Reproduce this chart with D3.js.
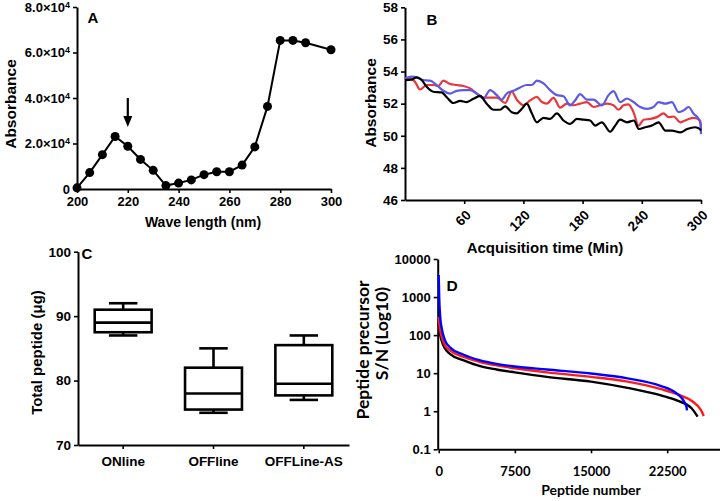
<!DOCTYPE html>
<html><head><meta charset="utf-8">
<script src="https://cdn.jsdelivr.net/npm/d3@7"></script>
<style>
body{margin:0;background:#fff;}
svg{display:block;}
text{font-family:"Liberation Sans",Arial,sans-serif;font-weight:bold;fill:#000;}
</style></head>
<body>
<svg id="chart" width="720" height="501"></svg>
<script>
// ---------- Panel A data ----------
const waveLength = [200,205,210,215,220,225,230,235,240,245,250,255,260,265,270,275,280,285,290,300];
const absorbanceA = [500,7200,15100,23100,18800,13000,8200,1500,2600,4000,6300,7600,7600,10500,18500,36300,65300,65300,64300,61200];
const yTicksA = [0,20000,40000,60000,80000];
const xTicksA = [200,220,240,260,280,300];

// ---------- Panel B data ----------
const timeBlack = [0,6.8,11.8,16.9,22,28.7,37.2,42.3,49,55.8,62.6,69.3,76.1,82.8,89.6,96.4,101.5,108.2,113.3,118.4,123.4,128.5,133.6,140.4,147.1,153.9,160.6,167.4,174.2,180.9,187.7,192.8,199.5,208,213,218,225,232,237,243.5,250,257,264,270.5,279,286,294,299,300];
const absBlack = [53.47,53.5,53.64,53.47,53.05,52.74,52.7,52.4,52.04,52.17,52.1,52.3,52.48,52.0,51.62,51.62,51.83,51.47,51.4,51.68,52.0,51.4,50.84,51.12,51.05,51.4,50.95,50.74,51.05,51.0,50.95,50.63,50.84,50.25,50.63,51.0,50.84,50.95,50.42,50.53,50.63,50.84,50.32,50.32,50.21,50.42,50.53,50.42,50.32];
const timeRed = [0,5.1,10.1,15.2,22.0,28.7,33.8,38.9,45.7,52.4,59.2,66.0,72.7,79.5,86.2,93.0,101.5,108.2,113.3,120.1,126.8,133.6,138.7,143.7,150.5,157.3,164.0,170.8,177.5,184.3,191.1,197.8,204.6,211.3,216.4,221.5,226.5,231.6,236.7,241.8,248.5,255.3,262.1,267.1,272.2,279.0,285.7,292.5,299.3,300];
const absRed = [53.47,53.58,53.37,52.88,53.16,53.16,53.1,53.43,53.22,53.16,53.1,52.95,52.63,52.38,52.38,52.38,52.04,52.74,52.25,51.9,52.2,52.42,52.1,52.0,52.36,51.75,52.0,51.9,52.0,52.1,51.79,51.9,52.0,51.9,51.62,51.9,51.96,51.47,50.63,51.0,51.05,51.16,51.4,51.16,51.2,50.84,51.0,51.12,50.95,50.42];
const timeBlue = [0,6.8,11.8,18.6,25.4,32.1,38.9,45.7,52.4,59.2,66.0,72.7,79.5,86.2,93.0,98.0,103.1,109.9,116.7,123.4,128.5,133.6,140.4,147.1,153.9,160.6,167.4,172.5,177.5,184.3,191.1,199.5,206.3,211.3,218.1,224.9,231.6,238.4,245.2,251.9,257.0,263.8,270.5,277.3,282.4,287.4,292.5,297.6,299.5,300];
const absBlue = [53.58,53.68,53.64,53.47,53.43,53.16,52.8,52.63,52.8,52.84,52.84,52.63,52.32,52.84,52.53,52.25,52.63,52.8,53.01,53.16,53.16,53.43,53.26,52.84,52.53,52.46,51.89,52.21,52.59,52.25,52.25,51.89,52.53,52.78,52.1,52.32,52.1,51.79,51.68,51.79,52.1,52.0,52.1,51.47,51.58,51.79,51.37,51.05,50.74,50.1];
const yTicksB = [46,48,50,52,54,56,58];
const xTicksB = [60,120,180,240,300];

// ---------- Panel C data ----------
const groupsC = ["ONline","OFFline","OFFLine-AS"];
const whiskerLow = [87,75,77];
const boxQ1 = [87.5,75.5,77.7];
const boxMedian = [89,78,79.5];
const boxQ3 = [91,82,85.5];
const whiskerHigh = [92,85,87];
const yTicksC = [70,80,90,100];

// ---------- Panel D data ----------
const rankBlack = [0,100,300,600,1100,2400,4000,5700,7500,10650,15000,18600,21900,23500,24900,25500];
const snBlack = [200,120,70,45,32,22,15.5,12.5,10.5,8,6,4.1,2.6,1.9,1.2,0.72];
const rankRed = [0,100,300,600,1100,2400,4000,5700,7500,10650,15000,18600,21900,23500,25000,25800,26100];
const snRed = [300,160,90,55,40,27,20,16,13.5,10.5,8,6,3.8,2.8,1.8,1.1,0.75];
const rankBlue = [0,50,150,300,600,1100,2400,4000,5700,7500,10650,15000,18600,21900,23300,24000,24400,24450];
const snBlue = [3800,1000,300,150,75,48,31,22,17.5,15,12.5,9.8,7.3,4.6,3.1,2.1,1.3,1.05];
const yTicksD = [0.1,1,10,100,1000,10000];
const xTicksD = [0,7500,15000,22500];

const svg = d3.select("#chart");
svg.append("rect").attr("width",720).attr("height",501).attr("fill","#fff");
const LATO = 'Lato,"Open Sans",sans-serif';

function styleAxis(g, fs, family){
  g.select(".domain").attr("stroke","#000").attr("stroke-width",2);
  g.selectAll(".tick line").attr("stroke","#000").attr("stroke-width",1.6);
  g.selectAll(".tick text").attr("font-size",fs).attr("fill","#000")
   .style("font-family", family || '"Liberation Sans",Arial,sans-serif').style("font-weight","bold");
}

// =============== Panel A ===============
const xA = d3.scaleLinear().domain([200,300]).range([77,331]);
const yA = d3.scaleLinear().domain([0,80000]).range([189,7]);
const gAy = svg.append("g").attr("transform","translate(77,0)")
  .call(d3.axisLeft(yA).tickValues(yTicksA).tickSize(4).tickSizeOuter(0).tickPadding(3).tickFormat(()=>""));
styleAxis(gAy,13);
gAy.selectAll(".tick text").each(function(d){
  const t = d3.select(this);
  if(d===0){ t.text("0"); return; }
  t.append("tspan").text((d/10000).toFixed(1)+"×10");
  t.append("tspan").attr("dy","-0.45em").attr("font-size","9px").text("4");
});
const gAx = svg.append("g").attr("transform","translate(0,189)")
  .call(d3.axisBottom(xA).tickValues(xTicksA).tickSize(4).tickSizeOuter(0).tickPadding(4));
styleAxis(gAx,13);
svg.append("path").datum(waveLength.map((w,i)=>[w,absorbanceA[i]]))
  .attr("fill","none").attr("stroke","#000").attr("stroke-width",2)
  .attr("d", d3.line().x(d=>xA(d[0])).y(d=>yA(d[1])));
svg.append("g").selectAll("circle").data(waveLength.map((w,i)=>[w,absorbanceA[i]])).join("circle")
  .attr("cx",d=>xA(d[0])).attr("cy",d=>yA(d[1])).attr("r",4.5).attr("fill","#000");
// arrow at 220 nm
svg.append("line").attr("x1",xA(220)).attr("x2",xA(220)).attr("y1",98).attr("y2",119)
  .attr("stroke","#000").attr("stroke-width",2.2);
svg.append("path").attr("d",`M${xA(220)-4.5},116 L${xA(220)+4.5},116 L${xA(220)},127 Z`).attr("fill","#000");
svg.append("text").attr("x",87.5).attr("y",23).attr("font-size",15).text("A");
svg.append("text").attr("transform","translate(15.5,104) rotate(-90)").attr("text-anchor","middle")
  .attr("font-size",15.5).text("Absorbance");
svg.append("text").attr("x",203).attr("y",227).attr("text-anchor","middle").attr("font-size",14).text("Wave length (nm)");

// =============== Panel B ===============
const xB = d3.scaleLinear().domain([0,300]).range([405,701]);
const yB = d3.scaleLinear().domain([46,58]).range([200,7.3]);
const gBy = svg.append("g").attr("transform","translate(405,0)")
  .call(d3.axisLeft(yB).tickValues(yTicksB).tickSize(4).tickSizeOuter(0).tickPadding(3));
styleAxis(gBy,13.5);
const gBx = svg.append("g").attr("transform","translate(0,200)")
  .call(d3.axisBottom(xB).tickValues(xTicksB).tickSize(4).tickSizeOuter(0).tickPadding(4));
styleAxis(gBx,13.5);
gBx.selectAll(".tick text").attr("text-anchor","end").attr("dy",null).attr("y",null)
  .attr("transform","translate(7,16) rotate(-45)");
const lineB = d3.line().x(d=>xB(d[0])).y(d=>yB(d[1])).curve(d3.curveMonotoneX);
[[timeRed,absRed,"#e8383c"],[timeBlue,absBlue,"#5a5ae6"],[timeBlack,absBlack,"#000"]].forEach(([t,v,c])=>{
  svg.append("path").datum(t.map((x,i)=>[x,v[i]])).attr("fill","none").attr("stroke",c)
    .attr("stroke-width",2.2).attr("d",lineB);
});
svg.append("text").attr("x",426.5).attr("y",25).attr("font-size",15).text("B");
svg.append("text").attr("transform","translate(375.5,103) rotate(-90)").attr("text-anchor","middle")
  .attr("font-size",15.5).text("Absorbance");
svg.append("text").attr("x",545).attr("y",253).attr("text-anchor","middle").attr("font-size",15).text("Acquisition time (Min)");

// =============== Panel C ===============
const xC = d3.scaleBand().domain(groupsC).range([78,349]).padding(0);
const yC = d3.scaleLinear().domain([70,100]).range([445,251.7]);
const gCy = svg.append("g").attr("transform","translate(78,0)")
  .call(d3.axisLeft(yC).tickValues(yTicksC).tickSize(4).tickSizeOuter(0).tickPadding(3));
styleAxis(gCy,13.5);
const gCx = svg.append("g").attr("transform","translate(0,445)")
  .call(d3.axisBottom(xC).tickSize(4).tickSizeOuter(0).tickPadding(7));
styleAxis(gCx,13.5);
const boxW = xC.bandwidth()*0.63;
groupsC.forEach((gname,i)=>{
  const cx = xC(gname)+xC.bandwidth()/2;
  const g = svg.append("g").attr("stroke","#000").attr("stroke-width",2.6).attr("fill","none");
  g.append("rect").attr("x",cx-boxW/2).attr("width",boxW)
    .attr("y",yC(boxQ3[i])).attr("height",yC(boxQ1[i])-yC(boxQ3[i]));
  g.append("line").attr("x1",cx-boxW/2).attr("x2",cx+boxW/2).attr("y1",yC(boxMedian[i])).attr("y2",yC(boxMedian[i]));
  g.append("line").attr("x1",cx).attr("x2",cx).attr("y1",yC(boxQ3[i])).attr("y2",yC(whiskerHigh[i]));
  g.append("line").attr("x1",cx).attr("x2",cx).attr("y1",yC(boxQ1[i])).attr("y2",yC(whiskerLow[i]));
  g.append("line").attr("x1",cx-boxW/4).attr("x2",cx+boxW/4).attr("y1",yC(whiskerHigh[i])).attr("y2",yC(whiskerHigh[i]));
  g.append("line").attr("x1",cx-boxW/4).attr("x2",cx+boxW/4).attr("y1",yC(whiskerLow[i])).attr("y2",yC(whiskerLow[i]));
});
svg.append("text").attr("x",81.5).attr("y",258.5).attr("font-size",15).text("C");
svg.append("text").attr("transform","translate(42,352.5) rotate(-90)").attr("text-anchor","middle")
  .attr("font-size",15).text("Total peptide (μg)");

// =============== Panel D ===============
const xD = d3.scaleLinear().domain([0,27700]).range([438.7,720]);
const yD = d3.scaleLog().domain([0.1,10000]).range([449.3,259]);
const gDy = svg.append("g").attr("transform","translate(437.7,0)")
  .call(d3.axisLeft(yD).tickValues(yTicksD).tickSize(4).tickSizeOuter(0).tickPadding(3).tickFormat(d=>String(d)));
styleAxis(gDy,13);
const gDx = svg.append("g").attr("transform","translate(0,449.3)")
  .call(d3.axisBottom(xD).tickValues(xTicksD).tickSize(4).tickSizeOuter(0).tickPadding(13).tickFormat(d=>String(d)));
styleAxis(gDx,13,LATO);
const lineD = d3.line().x(d=>xD(d[0])).y(d=>yD(d[1])).curve(d3.curveMonotoneX);
[[rankBlack,snBlack,"#000"],[rankRed,snRed,"#ff1a1a"],[rankBlue,snBlue,"#0000ff"]].forEach(([r,v,c])=>{
  svg.append("path").datum(r.map((x,i)=>[x,v[i]])).attr("fill","none").attr("stroke",c)
    .attr("stroke-width",2.4).attr("d",lineD);
});
svg.append("text").attr("x",446.5).attr("y",291).attr("font-size",15.5).text("D");
svg.append("text").attr("transform","translate(369,350) rotate(-90)").attr("text-anchor","middle")
  .style("font-family",LATO).attr("font-size",17.5).text("Peptide precursor");
svg.append("text").attr("transform","translate(388,333.5) rotate(-90)").attr("text-anchor","middle")
  .style("font-family",LATO).attr("font-size",17.5).text("S/N (Log10)");
svg.append("text").attr("x",591).attr("y",495).attr("text-anchor","middle")
  .style("font-family",LATO).attr("font-size",14).text("Peptide number");
</script>
</body></html>
